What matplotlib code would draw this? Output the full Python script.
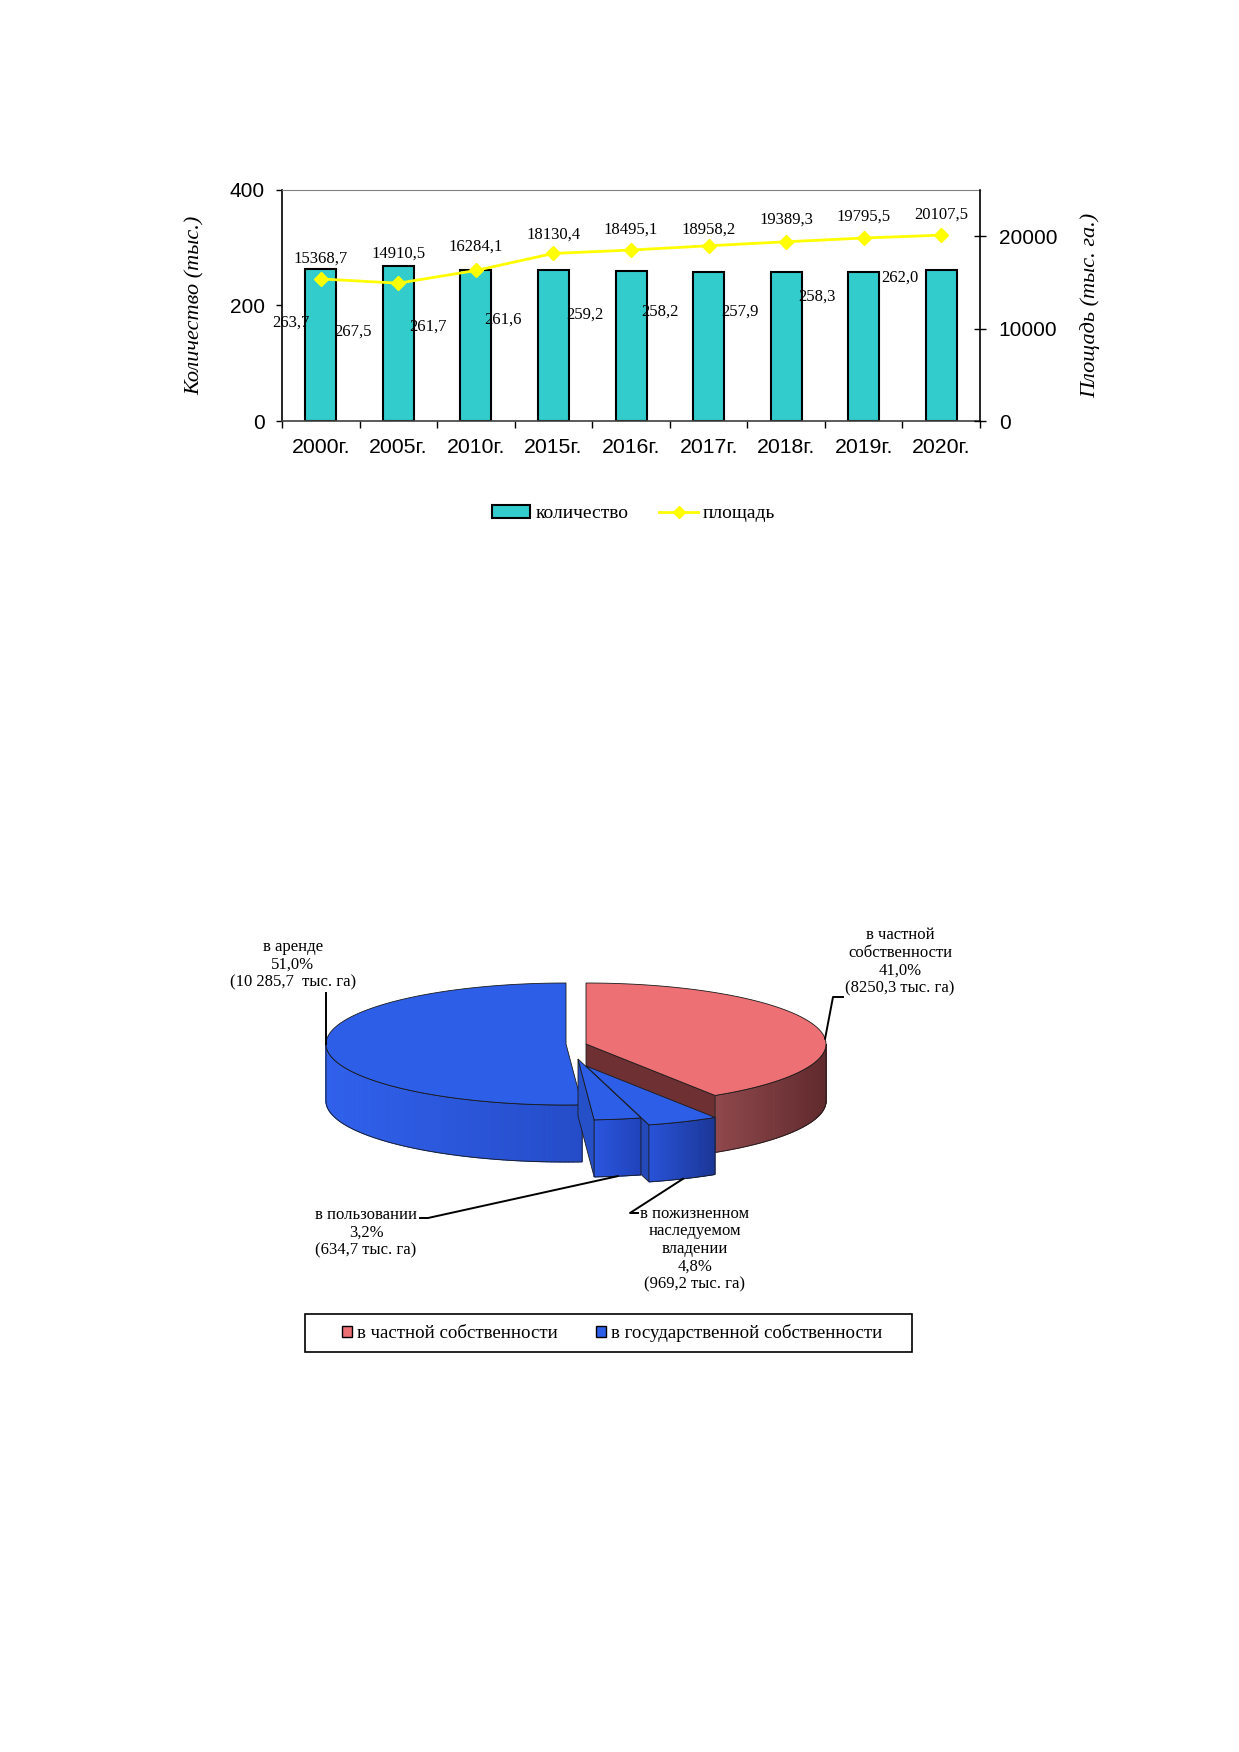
import matplotlib
matplotlib.use("Agg")
import matplotlib.pyplot as plt
import numpy as np
from matplotlib.patches import Polygon, Patch, Rectangle
from matplotlib.lines import Line2D

# --- данные: количество и площадь ---
years = ["2000г.", "2005г.", "2010г.", "2015г.", "2016г.", "2017г.", "2018г.", "2019г.", "2020г."]
count = [263.7, 267.5, 261.7, 261.6, 259.2, 258.2, 257.9, 258.3, 262.0]
area = [15368.7, 14910.5, 16284.1, 18130.4, 18495.1, 18958.2, 19389.3, 19795.5, 20107.5]

# --- данные: структура земель (по часовой стрелке от 12 часов) ---
pie_names = ["в частной\nсобственности", "в пожизненном\nнаследуемом\nвладении",
             "в пользовании", "в аренде"]
pie_values = [8250.3, 969.2, 634.7, 10285.7]
pie_pct = [41.0, 4.8, 3.2, 51.0]
legend_names = ["в частной собственности", "в государственной собственности"]

SERIF = "Liberation Serif"
SANS = "Liberation Sans"


def ru(v, fmt="%.1f"):
    return (fmt % v).replace(".", ",")


fig = plt.figure(figsize=(12.39, 17.52), dpi=100)

# ---------------- 3D круговая диаграмма (оверлей в пикселях) ----------------
pa = fig.add_axes([0, 0, 1, 1])
pa.set_xlim(0, 1239)
pa.set_ylim(1752, 0)
pa.axis("off")

cx, cy, rx, ry, depth = 576, 1044, 240, 61, 57
offsets = [(10, 0), (10, 22), (2, 15), (-10, 0)]
top_cols = ["#EC7074", "#2C5EE8", "#2C5EE8", "#2C5EE8"]
wall_cols = [((143, 72, 76), (96, 42, 45)),
             ((40, 82, 216), (27, 55, 150)),
             ((42, 86, 222), (32, 66, 185)),
             ((48, 97, 236), (37, 76, 200))]
rad_cols = ["#6E3032", "#2449B8", "#2650C8", "#244EC8"]
edge = "#1a1a1a"


def pt(theta, ox, oy, dz=0.0):
    t = np.radians(theta)
    return (cx + ox + rx * np.sin(t), cy + oy - ry * np.cos(t) + dz)


def rgb(c):
    return tuple(v / 255 for v in c)


def draw_slice(a0, a1, off, topc, wallc, radc):
    ox, oy = off
    c_top = (cx + ox, cy + oy)
    c_bot = (cx + ox, cy + oy + depth)
    # радиальные стенки
    for a, vis in ((a0, np.sin(np.radians(a0)) < -0.02), (a1, np.sin(np.radians(a1)) > 0.02)):
        if vis:
            pa.add_patch(Polygon([c_top, pt(a, ox, oy), pt(a, ox, oy, depth), c_bot],
                                 closed=True, fc=radc, ec=edge, lw=0.6))
    # внешняя стенка (видимая часть)
    lo, hi = max(a0, 90), min(a1, 270)
    if hi > lo:
        tw = np.linspace(lo, hi, 90)
        xs = np.array([pt(t, ox, oy)[0] for t in tw])
        x0, x1 = xs.min(), xs.max()
        cl, cr = np.array(wallc[0]), np.array(wallc[1])
        for i in range(len(tw) - 1):
            f = ((xs[i] + xs[i + 1]) / 2 - x0) / max(x1 - x0, 1)
            col = rgb(cl * (1 - f) + cr * f)
            pa.add_patch(Polygon([pt(tw[i], ox, oy), pt(tw[i + 1], ox, oy),
                                  pt(tw[i + 1], ox, oy, depth), pt(tw[i], ox, oy, depth)],
                                 closed=True, fc=col, ec=col, lw=0.8))
        outline = [pt(t, ox, oy) for t in tw] + [pt(t, ox, oy, depth) for t in tw[::-1]]
        pa.add_patch(Polygon(outline, closed=True, fill=False, ec=edge, lw=0.6))
    # верхняя грань
    ts = np.linspace(a0, a1, max(int((a1 - a0) * 2), 3))
    pa.add_patch(Polygon([c_top] + [pt(t, ox, oy) for t in ts], closed=True,
                         fc=topc, ec=edge, lw=0.6))


total = sum(pie_values)
bounds = np.concatenate([[0], np.cumsum(pie_values) / total * 360])
mids = (bounds[:-1] + bounds[1:]) / 2
order = np.argsort([-np.cos(np.radians(m)) for m in mids])
for i in order:
    draw_slice(bounds[i], bounds[i + 1], offsets[i], top_cols[i], wall_cols[i], rad_cols[i])

# подписи секторов
lab_txt = [n + "\n" + ru(p) + "%\n(" + ru(v) + " тыс. га)" for n, p, v in zip(pie_names, pie_pct, pie_values)]
lab_txt[3] = pie_names[3] + "\n" + ru(pie_pct[3]) + "%\n(10 285,7  тыс. га)"
lab_pos = [(900, 962), (695, 1249), (366, 1233), (293, 965)]
for t, (lx, ly) in zip(lab_txt, lab_pos):
    pa.text(lx, ly, t, ha="center", va="center", fontsize=12, family=SERIF,
            linespacing=1.14)

# выноски
lw_l = 1.4
p = pt(85, *offsets[0])
pa.plot([843, 833, p[0]], [997, 997, p[1]], color="black", lw=lw_l)
p = pt(mids[1], *offsets[1], depth)
pa.plot([638, 630, p[0]], [1213, 1213, p[1]], color="black", lw=lw_l)
p = pt(mids[2], *offsets[2], depth)
pa.plot([420, 428, p[0]], [1218, 1218, p[1]], color="black", lw=lw_l)
p = pt(270, *offsets[3])
pa.plot([p[0], p[0]], [993, p[1]], color="black", lw=lw_l)

# легенда круговой диаграммы
pa.add_patch(Rectangle((305, 1314), 607, 38, fill=False, ec="black", lw=1.2))
fig.legend(handles=[Patch(fc=top_cols[0], ec="black"), Patch(fc=top_cols[3], ec="black")],
           labels=legend_names, loc="center", bbox_to_anchor=(612 / 1239, 1 - 1333 / 1752),
           ncol=2, frameon=False, prop={"family": SERIF, "size": 13.6},
           handlelength=0.55, handleheight=0.55, handletextpad=0.25, columnspacing=2.0)

# ---------------- столбцы + линия ----------------
ax = fig.add_axes([0.2276, 0.7597, 0.5634, 0.1319])
x = np.arange(len(years))
bars = ax.bar(x, count, width=0.4, color="#33CCCC", edgecolor="black", linewidth=1.5, zorder=2)
ax.set_xlim(-0.5, len(years) - 0.5)
ax.set_ylim(0, 400)
ax.set_yticks([0, 200, 400])
ax.set_xticks(x)
ax.set_xticklabels(years)
ax.set_xticks(np.arange(-0.5, len(years)), minor=True)
ax.tick_params(axis="x", which="major", length=0, pad=12, labelsize=15.3)
ax.tick_params(axis="x", which="minor", length=5, direction="out", width=1)
ax.tick_params(axis="y", length=4.5, direction="out", width=1, pad=8, labelsize=15)
for lbl in ax.get_xticklabels() + ax.get_yticklabels():
    lbl.set_family(SANS)
ax.spines["top"].set_color("#808080")
ax.spines["right"].set_visible(False)
ax.spines["left"].set_linewidth(1.2)
ax.spines["bottom"].set_linewidth(1.2)
ax.spines["bottom"].set_color("#404040")

# подписи количества (как в исходнике, смещены влево)
cnt_lbl_pos = [(-0.38, 170), (-0.585, 155), (-0.62, 163), (-0.65, 175), (-0.60, 184),
               (-0.63, 189), (-0.60, 189), (-0.60, 215), (-0.54, 249)]
for i, v in enumerate(count):
    dx, yy = cnt_lbl_pos[i]
    ax.text(x[i] + dx, yy, ru(v), ha="center", va="center", fontsize=12, family=SERIF, zorder=3)

ax.set_ylabel("Количество (тыс.)", family=SERIF, style="italic", fontsize=16)
ax.yaxis.set_label_coords(-0.1246, 0.5)
ax.yaxis.label.set_va("center")

ax2 = ax.twinx()
ln, = ax2.plot(x, area, color="#FFFF00", lw=2, marker="D", markersize=7, zorder=3)
ax2.set_ylim(0, 25000)
ax2.set_yticks([0, 10000, 20000])
ax2.tick_params(axis="y", length=9, direction="inout", width=1, pad=9, labelsize=15)
for lbl in ax2.get_yticklabels():
    lbl.set_family(SANS)
for s in ("top", "left", "bottom"):
    ax2.spines[s].set_visible(False)
ax2.spines["right"].set_linewidth(1.2)
area_lbl_dy = [20, 30, 24, 19, 20, 16, 22, 21, 21]  # px над маркером
for i, v in enumerate(area):
    ax2.annotate(ru(v), (x[i], v), xytext=(0, area_lbl_dy[i] * 0.72), textcoords="offset points",
                 ha="center", va="center", fontsize=12, family=SERIF)
ax2.set_ylabel("Площадь (тыс. га.)", family=SERIF, style="italic", fontsize=16)
ax2.yaxis.set_label_coords(1.1576, 0.5)
ax2.yaxis.label.set_va("center")

fig.legend(handles=[Patch(fc="#33CCCC", ec="black", lw=1.5),
                    Line2D([], [], color="#FFFF00", lw=2, marker="D", markersize=6)],
           labels=["количество", "площадь"], loc="center",
           bbox_to_anchor=(0.5113, 0.7069), ncol=2, frameon=False,
           prop={"family": SERIF, "size": 14}, handlelength=2.0, handleheight=0.62,
           handletextpad=0.25, columnspacing=1.6)

fig.savefig("out.png", dpi=100, facecolor="white")
